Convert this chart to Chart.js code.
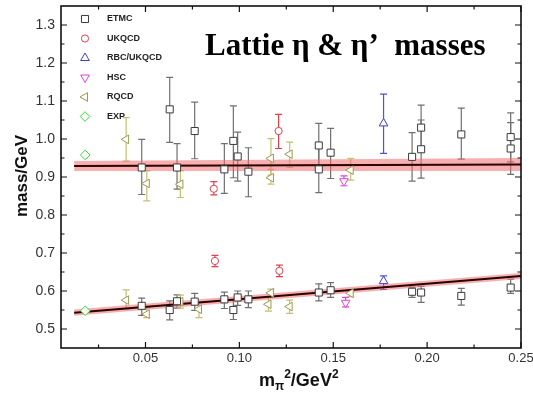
<!DOCTYPE html>
<html>
<head>
<meta charset="utf-8">
<script src="https://cdn.jsdelivr.net/npm/chart.js@4.4.1/dist/chart.umd.min.js"></script>
<style>
  html, body { margin: 0; padding: 0; background: #fff; }
  #wrap { width: 533px; height: 402px; }
</style>
</head>
<body>
<div id="wrap"><canvas id="c" width="533" height="402"></canvas></div>
<script>
// Axis ticks
const xTicks = [0.05, 0.10, 0.15, 0.20, 0.25];
const yTicks = [0.5, 0.6, 0.7, 0.8, 0.9, 1.0, 1.1, 1.2, 1.3];

// ETMC (eta' and eta)
const etmcX  = [0.048, 0.0629, 0.0668, 0.0762, 0.092, 0.0968, 0.0991, 0.1048, 0.1423, 0.1423, 0.1486, 0.192, 0.1968, 0.1968, 0.2182, 0.2445, 0.2445,
                0.048, 0.0629, 0.0668, 0.0762, 0.092, 0.0968, 0.0991, 0.1048, 0.1423, 0.1486, 0.192, 0.1968, 0.2182, 0.2445];
const etmcY  = [0.925, 1.078, 0.925, 1.021, 0.920, 0.995, 0.954, 0.914, 0.983, 0.920, 0.964, 0.953, 1.030, 0.973, 1.012, 0.975, 1.005,
                0.561, 0.550, 0.573, 0.572, 0.578, 0.550, 0.583, 0.578, 0.596, 0.602, 0.598, 0.596, 0.587, 0.609];
const etmcLo = [0.854, 0.991, 0.868, 0.948, 0.857, 0.898, 0.889, 0.848, 0.925, 0.859, 0.896, 0.889, 0.970, 0.897, 0.947, 0.907, 0.940,
                0.536, 0.524, 0.555, 0.549, 0.554, 0.525, 0.562, 0.556, 0.574, 0.583, 0.583, 0.570, 0.563, 0.594];
const etmcHi = [0.999, 1.162, 0.988, 1.097, 0.988, 1.087, 1.018, 0.977, 1.041, 0.975, 1.028, 1.017, 1.089, 1.050, 1.081, 1.043, 1.069,
                0.581, 0.574, 0.590, 0.594, 0.597, 0.576, 0.600, 0.600, 0.619, 0.622, 0.610, 0.612, 0.607, 0.631];

// UKQCD
const ukqcdX  = [0.0864, 0.1209, 0.0870, 0.1213];
const ukqcdY  = [0.869, 1.021, 0.679, 0.653];
const ukqcdLo = [0.853, 0.975, 0.664, 0.638];
const ukqcdHi = [0.888, 1.065, 0.694, 0.668];

// RBC/UKQCD
const rbcX  = [0.1768, 0.1768];
const rbcY  = [1.041, 0.626];
const rbcLo = [0.962, 0.604];
const rbcHi = [1.118, 0.640];

// HSC
const hscX  = [0.1557, 0.1566];
const hscY  = [0.889, 0.569];
const hscLo = [0.877, 0.558];
const hscHi = [0.903, 0.583];

// RQCD
const rqcdX  = [0.0397, 0.0507, 0.0686, 0.1168, 0.1168, 0.1268, 0.1593,
                0.0397, 0.0507, 0.0686, 0.0785, 0.1155, 0.1168, 0.1268, 0.1593];
const rqcdY  = [0.999, 0.883, 0.881, 0.949, 0.898, 0.960, 0.918,
                0.576, 0.539, 0.572, 0.552, 0.565, 0.595, 0.559, 0.594];
const rqcdLo = [0.942, 0.837, 0.846, 0.905, 0.881, 0.925, 0.892,
                0.552, 0.530, 0.555, 0.530, 0.547, 0.585, 0.541, 0.585];
const rqcdHi = [1.056, 0.916, 0.916, 1.001, 0.920, 0.992, 0.949,
                0.603, 0.556, 0.589, 0.570, 0.583, 0.605, 0.576, 0.603];

// Experiment
const expX = [0.0179, 0.0179];
const expY = [0.958, 0.548];

// Chiral fits with error bands
const fitX = [0.012, 0.25];
const etaPrimeFit = [0.929, 0.933];
const etaPrimeErr = [0.013, 0.017];
const etaFit = [0.543, 0.6395];
const etaErr = [0.008, 0.008];

function points(xs, ys, lo, hi) {
  return xs.map((x, i) => ({ x: x, y: ys[i], lo: lo ? lo[i] : null, hi: hi ? hi[i] : null }));
}
function line(xs, ys, d, sign) {
  return xs.map((x, i) => ({ x: x, y: ys[i] + (d ? sign * d[i] : 0) }));
}

const markerBase = { showLine: false, pointBorderWidth: 1, pointBackgroundColor: '#fff', order: 1 };

const datasets = [
  Object.assign({}, markerBase, { label: 'ETMC', data: points(etmcX, etmcY, etmcLo, etmcHi),
    pointStyle: 'rect', pointRadius: 5, borderColor: '#3a3a3a', errColor: '#707070' }),
  Object.assign({}, markerBase, { label: 'UKQCD', data: points(ukqcdX, ukqcdY, ukqcdLo, ukqcdHi),
    pointStyle: 'circle', pointRadius: 3.6, borderColor: '#e0404e', errColor: '#e0404e' }),
  Object.assign({}, markerBase, { label: 'RBC/UKQCD', data: points(rbcX, rbcY, rbcLo, rbcHi),
    pointStyle: 'triangle', pointRadius: 5, borderColor: '#3c3cd6', errColor: '#5050dd' }),
  Object.assign({}, markerBase, { label: 'HSC', data: points(hscX, hscY, hscLo, hscHi),
    pointStyle: 'triangle', pointRotation: 180, pointRadius: 5, borderColor: '#e040e0', errColor: '#e040e0' }),
  Object.assign({}, markerBase, { label: 'RQCD', data: points(rqcdX, rqcdY, rqcdLo, rqcdHi),
    pointStyle: 'triangle', pointRotation: -90, pointRadius: 5, borderColor: '#9a9a50', errColor: '#c4c070' }),
  Object.assign({}, markerBase, { label: 'EXP', data: points(expX, expY),
    pointStyle: 'rectRot', pointRadius: 4.8, borderColor: '#30dd30', errColor: '#30dd30' }),
  // bands and fit lines
  { label: 'etaPrimeBandHi', data: line(fitX, etaPrimeFit, etaPrimeErr, 1), fill: '+1',
    backgroundColor: 'rgba(240,110,110,0.55)', borderWidth: 0, pointRadius: 0, order: 3 },
  { label: 'etaPrimeBandLo', data: line(fitX, etaPrimeFit, etaPrimeErr, -1), fill: false,
    borderWidth: 0, pointRadius: 0, order: 3 },
  { label: 'etaBandHi', data: line(fitX, etaFit, etaErr, 1), fill: '+1',
    backgroundColor: 'rgba(240,110,110,0.55)', borderWidth: 0, pointRadius: 0, order: 3 },
  { label: 'etaBandLo', data: line(fitX, etaFit, etaErr, -1), fill: false,
    borderWidth: 0, pointRadius: 0, order: 3 },
  { label: 'etaPrimeFit', data: line(fitX, etaPrimeFit), borderColor: '#2a0000', borderWidth: 2,
    pointRadius: 0, fill: false, order: 2 },
  { label: 'etaFit', data: line(fitX, etaFit), borderColor: '#2a0000', borderWidth: 2,
    pointRadius: 0, fill: false, order: 2 }
];
const legendCount = 6;

// vertical error bars with caps
const errorBars = {
  id: 'errorBars',
  beforeDatasetsDraw(chart) {
    const ctx = chart.ctx, xs = chart.scales.x, ys = chart.scales.y;
    ctx.save();
    chart.data.datasets.forEach(ds => {
      if (!ds.errColor) return;
      ctx.strokeStyle = ds.errColor;
      ctx.lineWidth = 1.2;
      ds.data.forEach(p => {
        if (p.lo == null) return;
        const px = xs.getPixelForValue(p.x);
        const a = ys.getPixelForValue(p.lo), b = ys.getPixelForValue(p.hi);
        ctx.beginPath();
        ctx.moveTo(px, a); ctx.lineTo(px, b);
        ctx.moveTo(px - 3.5, a); ctx.lineTo(px + 3.5, a);
        ctx.moveTo(px - 3.5, b); ctx.lineTo(px + 3.5, b);
        ctx.stroke();
      });
    });
    ctx.restore();
  }
};

// frame, inward ticks, titles and legend
const decorations = {
  id: 'decorations',
  afterDraw(chart) {
    const ctx = chart.ctx, a = chart.chartArea, xs = chart.scales.x, ys = chart.scales.y;
    ctx.save();
    ctx.strokeStyle = '#111';
    ctx.lineWidth = 1.6;
    ctx.strokeRect(a.left, a.top, a.right - a.left, a.bottom - a.top);

    ctx.lineWidth = 1.2;
    ctx.beginPath();
    for (let i = 0; i < xTicks.length; i++) {
      const major = xTicks[i];
      [major, major - 0.025].forEach((v, k) => {
        if (v <= xs.min || v > xs.max) return;
        const px = xs.getPixelForValue(v), len = k === 0 ? 6 : 3.5;
        ctx.moveTo(px, a.bottom); ctx.lineTo(px, a.bottom - len);
        ctx.moveTo(px, a.top); ctx.lineTo(px, a.top + len);
      });
    }
    for (let i = 0; i < yTicks.length; i++) {
      const major = yTicks[i];
      [major, major + 0.05].forEach((v, k) => {
        if (v < ys.min || v >= ys.max) return;
        const py = ys.getPixelForValue(v), len = k === 0 ? 6 : 3.5;
        ctx.moveTo(a.left, py); ctx.lineTo(a.left + len, py);
        ctx.moveTo(a.right, py); ctx.lineTo(a.right - len, py);
      });
    }
    ctx.stroke();

    // plot title
    ctx.fillStyle = '#000';
    ctx.textBaseline = 'alphabetic';
    ctx.textAlign = 'left';
    ctx.font = 'bold 31px "Liberation Serif", "Times New Roman", serif';
    ctx.fillText('Lattie \u03b7 & \u03b7\u2019  masses', 205, 55);

    // y-axis title
    ctx.save();
    ctx.translate(27, 176);
    ctx.rotate(-Math.PI / 2);
    ctx.textAlign = 'center';
    ctx.font = 'bold 17px "Liberation Sans", Arial, sans-serif';
    ctx.fillStyle = '#111';
    ctx.fillText('mass/GeV', 0, 0);
    ctx.restore();

    // x-axis title with sub/superscripts
    const big = 'bold 18px "Liberation Sans", Arial, sans-serif';
    const small = 'bold 12px "Liberation Sans", Arial, sans-serif';
    const parts = [['m', big, 0], ['\u03c0', small, 4], ['2', small, -8], ['/GeV', big, 0], ['2', small, -8]];
    let tx = 259;
    ctx.fillStyle = '#111';
    parts.forEach(([t, f, dy]) => {
      ctx.font = f;
      ctx.fillText(t, tx, 386 + dy);
      tx += ctx.measureText(t).width;
    });

    // legend
    const mx = 85, lx = 107;
    for (let i = 0; i < legendCount; i++) {
      const ds = chart.data.datasets[i];
      const y = 19 + i * 19.5;
      ctx.strokeStyle = ds.borderColor;
      ctx.fillStyle = '#fff';
      ctx.lineWidth = 1;
      Chart.helpers.drawPoint(ctx, { pointStyle: ds.pointStyle, rotation: ds.pointRotation || 0,
        radius: ds.pointRadius, borderWidth: 1 }, mx, y);
      ctx.fillStyle = '#222';
      ctx.font = 'bold 9px "Liberation Sans", Arial, sans-serif';
      ctx.textBaseline = 'middle';
      ctx.fillText(ds.label, lx, y);
      ctx.textBaseline = 'alphabetic';
    }
    ctx.restore();
  }
};

new Chart(document.getElementById('c'), {
  type: 'line',
  data: { datasets: datasets },
  plugins: [errorBars, decorations],
  options: {
    responsive: false,
    animation: false,
    layout: { padding: { left: 0, top: 6, right: 12, bottom: 0 } },
    plugins: { legend: { display: false }, tooltip: { enabled: false }, title: { display: false } },
    scales: {
      x: {
        type: 'linear', min: 0.005, max: 0.25,
        grid: { display: false, drawTicks: false }, border: { display: false },
        afterBuildTicks: s => { s.ticks = xTicks.map(v => ({ value: v })); },
        afterFit: s => { s.height = 54; s.paddingLeft = 0; s.paddingRight = 0; },
        ticks: { padding: 3, color: '#333', font: { size: 13, family: '"Liberation Sans", Arial, sans-serif' },
          callback: v => v.toFixed(2), maxRotation: 0 }
      },
      y: {
        type: 'linear', min: 0.45, max: 1.35,
        grid: { display: false, drawTicks: false }, border: { display: false },
        afterBuildTicks: s => { s.ticks = yTicks.map(v => ({ value: v })); },
        afterFit: s => { s.width = 61; s.paddingTop = 0; s.paddingBottom = 0; },
        ticks: { padding: 6, color: '#333', font: { size: 14, family: '"Liberation Sans", Arial, sans-serif' },
          callback: v => v.toFixed(1) }
      }
    }
  }
});
</script>
</body>
</html>
